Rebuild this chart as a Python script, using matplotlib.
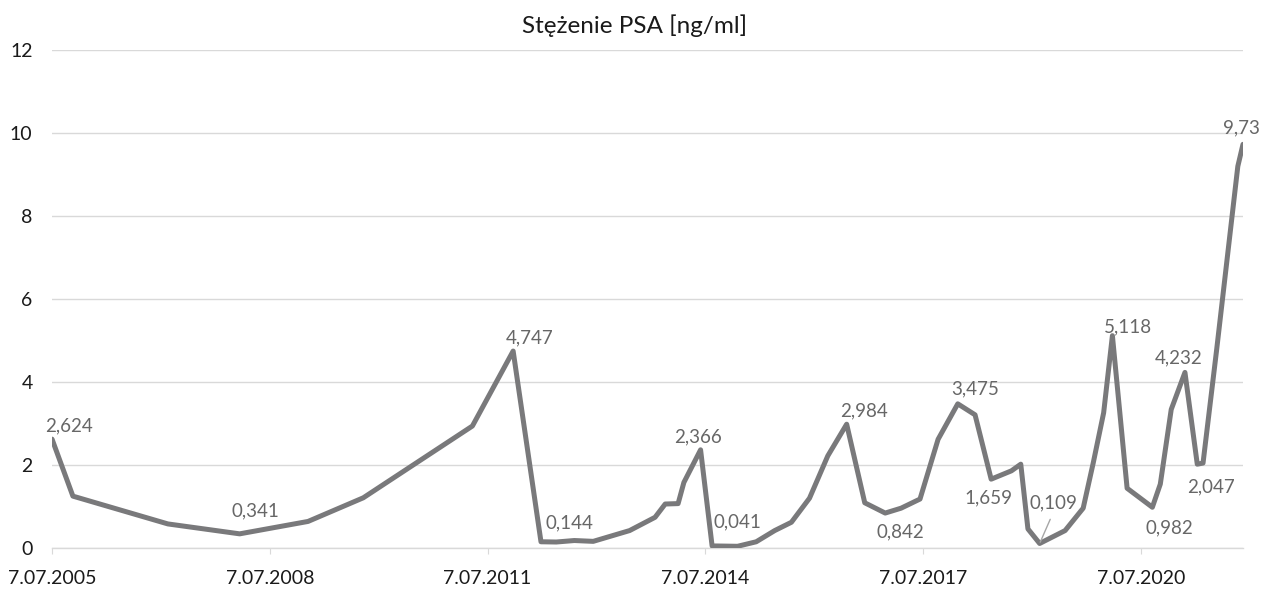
import matplotlib
matplotlib.use('Agg')
import matplotlib.pyplot as plt
import pandas as pd

dates = ['2005-07-07', '2005-10-20', '2007-02-10', '2008-02-06', '2009-01-15',
         '2009-10-20', '2011-04-22', '2011-11-13', '2012-04-01', '2012-06-17',
         '2012-09-16', '2012-12-20', '2013-06-21', '2013-10-27', '2013-12-17',
         '2014-02-20', '2014-03-21', '2014-06-13', '2014-08-10', '2014-12-16',
         '2015-03-20', '2015-06-21', '2015-09-13', '2015-12-13', '2016-03-14',
         '2016-06-17', '2016-09-16', '2016-12-28', '2017-03-18', '2017-06-21',
         '2017-09-20', '2017-12-28', '2018-03-25', '2018-06-14', '2018-09-24',
         '2018-11-10', '2018-12-16', '2019-02-13', '2019-06-21', '2019-09-20',
         '2019-11-10', '2020-01-01', '2020-02-14', '2020-04-28', '2020-09-02',
         '2020-10-12', '2020-12-06', '2021-02-13', '2021-04-16', '2021-05-15',
         '2021-07-23', '2021-11-06', '2021-12-02']
psa = [2.624, 1.25, 0.58, 0.341, 0.64,
       1.21, 2.94, 4.747, 0.15, 0.144,
       0.18, 0.16, 0.42, 0.74, 1.06,
       1.07, 1.58, 2.366, 0.05, 0.041,
       0.15, 0.42, 0.62, 1.2, 2.22,
       2.984, 1.09, 0.842, 0.96, 1.18,
       2.62, 3.475, 3.21, 1.659, 1.86,
       2.02, 0.46, 0.109, 0.42, 0.96,
       2.06, 3.26, 5.118, 1.44, 0.982,
       1.54, 3.34, 4.232, 2.02, 2.047,
       4.8, 9.2, 9.73]

# labelled points: index -> (dx, dy) in pixels
labels_above = {0: (17, 8), 3: (16, 17), 7: (16, 8), 9: (13, 14), 17: (-3, 7),
                19: (0, 19), 25: (17, 8), 31: (17, 9), 42: (16, 3), 47: (-6, 9),
                52: (-2, 11)}
labels_below = {27: (15, 10), 33: (-3, 10), 44: (17, 12), 49: (8, 15)}
label_leader = {37: (14, 35)}

tick_dates = ['2005-07-07', '2008-07-07', '2011-07-07', '2014-07-07', '2017-07-07', '2020-07-07']
tick_labels = ['7.07.2005', '7.07.2008', '7.07.2011', '7.07.2014', '7.07.2017', '7.07.2020']

x = pd.to_datetime(dates)
plt.rcParams['font.family'] = ['Lato', 'DejaVu Sans']

fig = plt.figure(figsize=(12.69, 5.90), dpi=100)
ax = fig.add_axes([0.041, 0.0712, 0.9385, 0.8438])

ax.plot(x, psa, color='#79797b', lw=3.6, solid_joinstyle='round', solid_capstyle='round', zorder=3)

def fmt(v):
    return str(v).replace('.', ',')

lab_col = '#676767'
for i, (dx, dy) in labels_above.items():
    ax.annotate(fmt(psa[i]), (x[i], psa[i]), xytext=(dx, dy), textcoords='offset pixels',
                ha='center', va='baseline', fontsize=13.5, color=lab_col)
for i, (dx, dy) in labels_below.items():
    ax.annotate(fmt(psa[i]), (x[i], psa[i]), xytext=(dx, -dy), textcoords='offset pixels',
                ha='center', va='top', fontsize=13.5, color=lab_col)
for i, (dx, dy) in label_leader.items():
    ax.annotate(fmt(psa[i]), (x[i], psa[i]), xytext=(dx, dy), textcoords='offset pixels',
                ha='center', va='baseline', fontsize=13.5, color=lab_col,
                arrowprops=dict(arrowstyle='-', color='#a6a6a6', lw=1, relpos=(0.5, 0),
                                shrinkA=4, shrinkB=1))

ax.set_xlim(x[0], x[-1])
ax.set_ylim(0, 12)
ax.set_yticks(range(0, 13, 2))
ax.set_xticks(pd.to_datetime(tick_dates))
ax.set_xticklabels(tick_labels)

ax.grid(axis='y', color='#d9d9d9', lw=1)
ax.set_axisbelow(True)
for s in ['top', 'right', 'left']:
    ax.spines[s].set_visible(False)
ax.spines['bottom'].set_color('#d9d9d9')
ax.spines['bottom'].set_linewidth(1)
ax.tick_params(axis='y', length=0, labelsize=14, pad=14, labelcolor='#1a1a1a')
ax.tick_params(axis='x', length=4.5, color='#d9d9d9', labelsize=14, pad=11, labelcolor='#1a1a1a')

fig.text(0.5, 1 - 33 / 590, 'Stężenie PSA [ng/ml]', ha='center', va='baseline',
         fontsize=17.5, color='#1a1a1a')

fig.savefig('out.png', dpi=100)
